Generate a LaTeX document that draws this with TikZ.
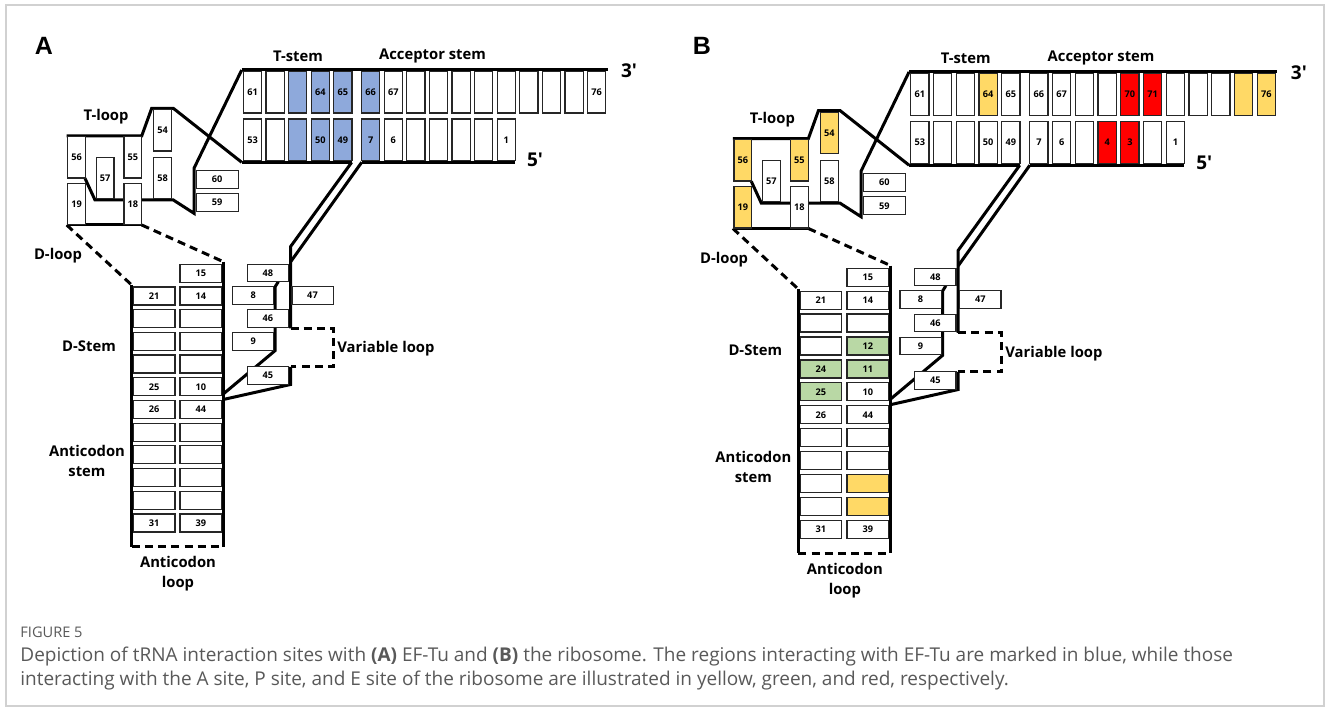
\documentclass[tikz,border=0pt]{standalone}
\usepackage{fontspec}
\setmainfont{Open Sans}
\newfontfamily\panfont{Liberation Sans}
\definecolor{blueC}{HTML}{8EA9DB}
\definecolor{yelC}{HTML}{FFD966}
\definecolor{grnC}{HTML}{B9D8A5}
\definecolor{redC}{HTML}{FF0000}
\definecolor{capgray}{HTML}{595959}
\newcommand\nl{}
\tikzset{
 strand/.style={line width=1.5pt, line join=miter, draw=black},
 loopd/.style={strand, dash pattern=on 4pt off 2.6pt},
 cellbase/.style={draw=black!85, line width=0.6pt, fill=white, inner sep=0pt, font=\bfseries\fontsize{4.6}{5}\selectfont},
 vcell/.style={cellbase, minimum width=9.1pt, minimum height=20.75pt},
 tcell/.style={cellbase, minimum width=8.9pt, minimum height=20.6pt},
 hcell/.style={cellbase, minimum width=20.85pt, minimum height=9pt},
 rcell/.style={cellbase, minimum width=20.6pt, minimum height=8.8pt},
 lab/.style={font=\bfseries\fontsize{7.4}{10}\selectfont, inner sep=0pt, align=center},
 prime/.style={font=\bfseries\fontsize{9.5}{10}\selectfont, inner sep=0pt},
 pA/63/.style={fill=blueC}, pA/64/.style={fill=blueC}, pA/65/.style={fill=blueC}, pA/66/.style={fill=blueC},
 pA/51/.style={fill=blueC}, pA/50/.style={fill=blueC}, pA/49/.style={fill=blueC}, pA/7/.style={fill=blueC},
 pB/64/.style={fill=yelC}, pB/75/.style={fill=yelC}, pB/76/.style={fill=yelC}, pB/56/.style={fill=yelC},
 pB/19/.style={fill=yelC}, pB/55/.style={fill=yelC}, pB/54/.style={fill=yelC}, pB/41/.style={fill=yelC}, pB/40/.style={fill=yelC},
 pB/12/.style={fill=grnC}, pB/11/.style={fill=grnC}, pB/24/.style={fill=grnC}, pB/25/.style={fill=grnC},
 pB/70/.style={fill=redC}, pB/71/.style={fill=redC}, pB/4/.style={fill=redC}, pB/3/.style={fill=redC},
}
\newcommand\tpanel[4]{%
 % strands
 \draw[strand] (66.7,136) -- (141.7,136) -- (151.7,108.3) -- (173.3,108.3) -- (241.7,162.3);
 \draw[strand] (241.7,70) -- (607.7,70);
 \draw[strand] (241.7,162.3) -- (351.7,162.3);
 \draw[strand] (361.7,162.3) -- (515,162.3);
 \draw[strand] (241.7,70) -- (194,168.3) -- (194,213.3) -- (173.3,200) -- (95,200) -- (85,178.3);
 \draw[strand] (66.7,225) -- (141.7,225);
 \draw[loopd] (66.7,225) -- (131.7,285);
 \draw[loopd] (141.7,225) -- (223.3,261.7);
 \draw[strand] (131.7,285) -- (131.7,546.7);
 \draw[strand] (223.3,261.7) -- (223.3,546.7);
 \draw[loopd] (131.7,546.7) -- (223.3,546.7);
 \draw[strand] (351.7,162.3) -- (290.5,246.7) -- (290.5,328.3);
 \draw[strand] (361.7,162.3) -- (290.5,262);
 \draw[loopd] (290.5,328.3) -- (333.5,328.3) -- (333.5,367) -- (290.5,367);
 \draw[strand] (290.5,367) -- (290.5,384.5) -- (223.3,399.5);
 \draw[strand] (278.3,281.7) -- (275,287) -- (275,350.7) -- (223.3,394);
 % acceptor / T stem cells
 \foreach \id/\x/\lab in {#2} {\edef\celltmp{\noexpand\node[vcell,#1/\id/.try] (#1-\id) at (\x,92.3) {\lab};}\celltmp}
 \foreach \id/\x/\lab in {#3} {\edef\celltmp{\noexpand\node[vcell,#1/\id/.try] (#1-\id) at (\x,139.8) {\lab};}\celltmp}
 % T loop cells
 \node[tcell,#1/56/.try] (#1-56) at (76.7,157.5) {56};
 \node[tcell,#1/19/.try] (#1-19) at (76.7,204.2) {19};
 \node[tcell,#1/57/.try] (#1-57) at (105,178.2) {57};
 \node[tcell,#1/55/.try] (#1-55) at (132.8,157.5) {55};
 \node[tcell,#1/18/.try] (#1-18) at (132.8,204.2) {18};
 \node[tcell,#1/54/.try] (#1-54) at (162.5,130.5) {54};
 \node[tcell,#1/58/.try] (#1-58) at (162.5,178.2) {58};
 \node[rcell,minimum width=21.1pt,minimum height=9pt] (#1-60) at (217.2,179.5) {60};
 \node[rcell,minimum width=21.1pt,minimum height=9pt] (#1-59) at (217.2,202.5) {59};
 % D / anticodon stem cells
 \foreach \id/\x/\y/\lab in {#4} {\edef\celltmp{\noexpand\node[hcell,#1/\id/.try] (#1-\id) at (\x,\y) {\lab};}\celltmp}
 % variable region cells
 \node[rcell] (#1-48) at (267.8,273) {48};
 \node[rcell] (#1-8) at (253.2,295.4) {8};
 \node[rcell] (#1-47) at (312.5,295.4) {47};
 \node[rcell] (#1-46) at (267.8,318.7) {46};
 \node[rcell] (#1-9) at (253.2,341.4) {9};
 \node[rcell] (#1-45) at (267.8,375.4) {45};
 % labels
 \node[lab] (#1-ltstem) at (298,56) {T-stem};
 \node[lab] (#1-lacc) at (432.5,56) {Acceptor stem};
 \node[lab] (#1-ltloop) at (106,117) {T-loop};
 \node[lab] (#1-ldloop) at (58,256) {D-loop};
 \node[lab] (#1-ldstem) at (89,346) {D-Stem};
 \node[lab,anchor=west] (#1-lvar) at (337,349) {Variable loop};
 \node[lab] (#1-lacs) at (87,461) {Anticodon\\stem};
 \node[lab] (#1-lacl) at (178,574) {Anticodon\\loop};
 \node[prime] (#1-l3) at (629,71) {3′};
 \node[prime] (#1-l5) at (535,160) {5′};
}
\begin{document}
\begin{tikzpicture}[x=0.5pt,y=-0.5pt]
\useasboundingbox (0,0) rectangle (1330,710);
\fill[white] (0,0) rectangle (1330,710);
\draw[black!18, line width=0.6pt] (6,5) rectangle (1324,706);
\node[font=\panfont\bfseries\fontsize{12.5}{13}\selectfont, inner sep=0pt] (lblA) at (44,46) {A};
\node[font=\panfont\bfseries\fontsize{12.5}{13}\selectfont, inner sep=0pt] (lblB) at (702,46) {B};
\tpanel{pA}{61/252.5/61, 62/275.1/\nl, 63/297.7/\nl, 64/320.3/64, 65/342.9/65, 66/370.7/66, 67/393.3/67, 68/415.9/\nl, 69/438.5/\nl, 70/461.1/\nl, 71/483.7/\nl, 72/506.3/\nl, 73/528.9/\nl, 74/551.5/\nl, 75/574.1/\nl, 76/596.7/76}
{53/252.5/53, 52/275.1/\nl, 51/297.7/\nl, 50/320.3/50, 49/342.9/49, 7/370.7/7, 6/393.3/6, 5/415.9/\nl, 4/438.5/\nl, 3/461.1/\nl, 2/483.7/\nl, 1/506.3/1}
{15/200.8/273.3/15, 14/200.8/296.0/14, 13/200.8/318.7/\nl, 12/200.8/341.4/\nl, 11/200.8/364.1/\nl, 10/200.8/386.8/10, 44/200.8/409.5/44, 43/200.8/432.2/\nl, 42/200.8/454.9/\nl, 41/200.8/477.6/\nl, 40/200.8/500.3/\nl, 39/200.8/523.0/39, 21/154.2/296.0/21, 22/154.2/318.7/\nl, 23/154.2/341.4/\nl, 24/154.2/364.1/\nl, 25/154.2/386.8/25, 26/154.2/409.5/26, 27/154.2/432.2/\nl, 28/154.2/454.9/\nl, 29/154.2/477.6/\nl, 30/154.2/500.3/\nl, 31/154.2/523.0/31}
\begin{scope}[shift={(665.72,1.31)}, xscale=1.0067, yscale=1.0097]
\tpanel{pB}{61/252.5/61, 62/275.1/\nl, 63/297.7/\nl, 64/320.3/64, 65/342.9/65, 66/370.7/66, 67/393.3/67, 68/415.9/\nl, 69/438.5/\nl, 70/461.1/70, 71/483.7/71, 72/506.3/\nl, 73/528.9/\nl, 74/551.5/\nl, 75/574.1/\nl, 76/596.7/76}
{53/252.5/53, 52/275.1/\nl, 51/297.7/\nl, 50/320.3/50, 49/342.9/49, 7/370.7/7, 6/393.3/6, 5/415.9/\nl, 4/438.5/4, 3/461.1/3, 2/483.7/\nl, 1/506.3/1}
{15/200.8/273.3/15, 14/200.8/296.0/14, 13/200.8/318.7/\nl, 12/200.8/341.4/12, 11/200.8/364.1/11, 10/200.8/386.8/10, 44/200.8/409.5/44, 43/200.8/432.2/\nl, 42/200.8/454.9/\nl, 41/200.8/477.6/\nl, 40/200.8/500.3/\nl, 39/200.8/523.0/39, 21/154.2/296.0/21, 22/154.2/318.7/\nl, 23/154.2/341.4/\nl, 24/154.2/364.1/24, 25/154.2/386.8/25, 26/154.2/409.5/26, 27/154.2/432.2/\nl, 28/154.2/454.9/\nl, 29/154.2/477.6/\nl, 30/154.2/500.3/\nl, 31/154.2/523.0/31}
\end{scope}
% caption
\node[anchor=west, inner sep=0pt, text=capgray, font=\fontsize{7.3}{8}\selectfont] (figno) at (20,632) {FIGURE 5};
\node[anchor=west, inner sep=0pt, text=capgray, font=\fontsize{9.5}{10}\selectfont] (cap1) at (20,657) {Depiction of tRNA interaction sites with \textbf{(A)} EF-Tu and \textbf{(B)} the ribosome. The regions interacting with EF-Tu are marked in blue, while those};
\node[anchor=west, inner sep=0pt, text=capgray, font=\fontsize{9.5}{10}\selectfont] (cap2) at (20,681) {interacting with the A site, P site, and E site of the ribosome are illustrated in yellow, green, and red, respectively.};
\end{tikzpicture}
\end{document}
